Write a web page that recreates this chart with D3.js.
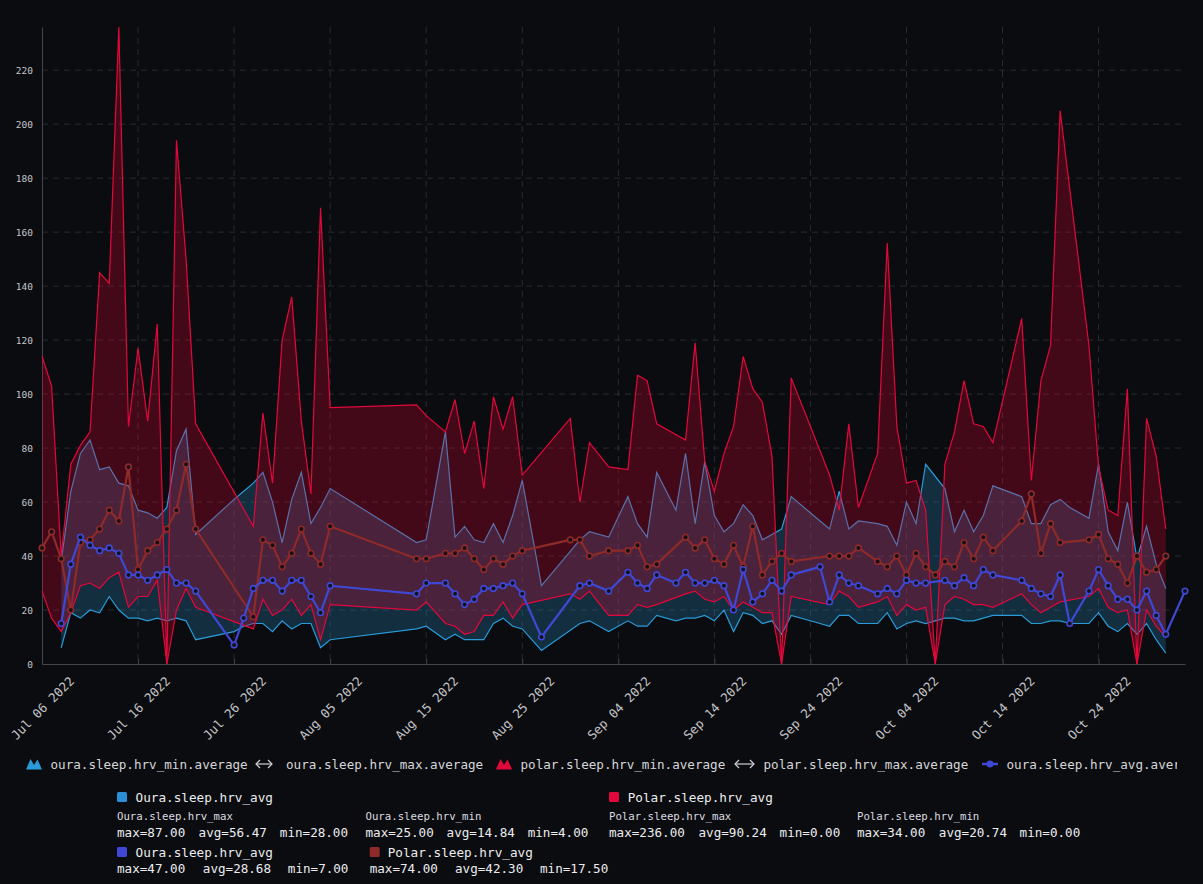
<!DOCTYPE html>
<html><head><meta charset="utf-8">
<script src="https://cdn.jsdelivr.net/npm/d3@7"></script>
<style>
html,body{margin:0;padding:0;background:#0b0c0f;}
svg{display:block;}
text{font-family:"DejaVu Sans Mono","Liberation Mono",monospace;}
</style></head><body>
<svg id="chart" width="1203" height="884"></svg>
<script>
// ---- data ----
const dates = [
"2022-07-06","2022-07-07","2022-07-08","2022-07-09","2022-07-10","2022-07-11","2022-07-12","2022-07-13","2022-07-14","2022-07-15",
"2022-07-16","2022-07-17","2022-07-18","2022-07-19","2022-07-20","2022-07-21","2022-07-22","2022-07-26","2022-07-27","2022-07-28",
"2022-07-29","2022-07-30","2022-07-31","2022-08-01","2022-08-02","2022-08-03","2022-08-04","2022-08-05","2022-08-14","2022-08-15",
"2022-08-17","2022-08-18","2022-08-19","2022-08-20","2022-08-21","2022-08-22","2022-08-23","2022-08-24","2022-08-25","2022-08-27",
"2022-08-30","2022-08-31","2022-09-01","2022-09-03","2022-09-05","2022-09-06","2022-09-07","2022-09-08","2022-09-10","2022-09-11",
"2022-09-12","2022-09-13","2022-09-14","2022-09-15","2022-09-16","2022-09-17","2022-09-18","2022-09-19","2022-09-20","2022-09-21",
"2022-09-22","2022-09-25","2022-09-26","2022-09-27","2022-09-28","2022-09-29","2022-10-01","2022-10-02","2022-10-03","2022-10-04",
"2022-10-05","2022-10-06","2022-10-07","2022-10-08","2022-10-09","2022-10-10","2022-10-11","2022-10-12","2022-10-13","2022-10-16",
"2022-10-17","2022-10-18","2022-10-19","2022-10-20","2022-10-21","2022-10-23","2022-10-24","2022-10-25","2022-10-26","2022-10-27",
"2022-10-28","2022-10-29","2022-10-30","2022-10-31","2022-11-02"];

const polarMax = [
114,103,40,74,81,86,145,141,236,88,
117,90,126,0,194,150,89,null,null,51,
93,67,120,136,90,63,169,95,96,92,
86,98,78,90,65,99,87,99,70,null,
91,60,82,73,72,107,105,89,null,83,
119,75,64,78,88,114,102,97,77,0,
106,null,70,57,89,58,78,156,88,67,
68,57,0,74,86,105,89,88,82,128,
68,105,118,205,null,118,73,57,55,102,
0,91,77,50,null];

const polarMin = [
27,17,12,19,29,30,28,32,34,21,
25,25,31,0,20,28,21,null,null,13,
24,18,20,24,18,22,9,22,20,23,
15,14,11,12,18,18,23,17,22,null,
26,24,27,18,18,22,21,22,null,26,
27,24,23,25,20,23,21,19,19,0,
25,null,22,27,25,21,23,25,18,22,
20,21,0,22,25,24,22,22,21,26,
22,19,21,23,null,25,28,21,19,20,
0,20,14,10,null];

const polarAvg = [
43,49,39,20,45,46,50,57,53,73,
35,42,45,50,57,74,50,null,null,17.5,
46,44,36,41,50,41,37,51,39,39,
41,41,43,39,35,39,37,40,42,null,
46,46,40,42,42,44,36,37,null,47,
43,46,39,37,44,36,51,33,38,41,
38,null,40,40,40,43,38,36,40,33,
41,36,33,38,36,45,39,47,42,53,
63,41,52,45,null,46,48,39,37,30,
40,34,35,40,null];

const ouraMax = [
null,null,38,64,78,83,72,73,67,66,
57,56,54,58,79,87,48,61,64,67,
71,60,45,61,71,52,58,65,45,46,
86,47,51,46,45,52,45,55,68,29,
null,46,49,47,62,52,47,71,57,78,
52,75,55,49,52,59,55,46,48,50,
62,53,50,64,50,53,52,51,44,60,
52,74,null,65,49,57,49,55,66,62,
52,52,59,61,58,54,74,49,42,60,
39,51,37,28,null];

const ouraMin = [
null,null,6,19,17,20,19,25,20,17,
17,16,17,16,17,16,9,12,14,15,
15,12,16,13,15,15,6,9,13,14,
9,11,9,9,9,15,17,14,13,5,
null,15,16,12,16,14,14,18,16,17,
17,18,16,20,12,19,18,15,16,11,
18,15,14,18,18,15,15,19,13,15,
16,15,null,17,17,16,16,17,18,18,
15,15,16,16,15,15,19,14,12,15,
11,15,9,4,null];

const ouraAvg = [
null,null,15,37,47,44,42,43,41,33,
33,31,33,35,30,30,27,7,17,28,
31,31,27,31,31,25,19,29,26,30,
30,26,22,24,28,28,29,30,26,10,
null,29,30,27,34,30,28,33,30,34,
30,30,31,29,20,35,23,26,31,27,
33,36,23,33,30,29,26,28,26,31,
30,30,null,31,29,32,29,35,33,31,
28,26,25,33,15,27,35,29,24,24,
20,27,18,11,27];

const xTicks = ["2022-07-06","2022-07-16","2022-07-26","2022-08-05","2022-08-15","2022-08-25",
                "2022-09-04","2022-09-14","2022-09-24","2022-10-04","2022-10-14","2022-10-24"];
const yTicks = [0,20,40,60,80,100,120,140,160,180,200,220];
const xDomain = ["2022-07-06","2022-11-02"];
const yMax = 236;

const legendTop = ["oura.sleep.hrv_min.average","oura.sleep.hrv_max.average",
                   "polar.sleep.hrv_min.average","polar.sleep.hrv_max.average","oura.sleep.hrv_avg.average"];

// ---- rendering ----
const parse = d3.utcParse("%Y-%m-%d");
const svg = d3.select("#chart");
const C = {
  bg:"#0b0c0f", grid:"#2a2b30", axis:"#45464c", label:"#c4c4c8",
  oura:"#2a9ad8", ouraFill:"rgba(42,154,216,0.24)",
  polar:"#e3083c", polarFill:"rgba(220,5,50,0.28)",
  ouraAvg:"#3f48d4", polarAvg:"#8e2a2a"
};
svg.append("rect").attr("width",1203).attr("height",884).attr("fill",C.bg);

const L=42, R=1185, T=27, B=664;
const x = d3.scaleUtc().domain(xDomain.map(parse)).range([L,R]);
const y = d3.scaleLinear().domain([0,yMax]).range([B,T]);

// grid
const g = svg.append("g");
g.selectAll("line.h").data(yTicks.filter(v=>v>0)).join("line")
  .attr("x1",L).attr("x2",R).attr("y1",d=>y(d)).attr("y2",d=>y(d))
  .attr("stroke",C.grid).attr("stroke-dasharray","6,5").attr("stroke-width",1);
g.selectAll("line.v").data(xTicks.slice(1)).join("line")
  .attr("x1",d=>x(parse(d))).attr("x2",d=>x(parse(d))).attr("y1",T).attr("y2",B)
  .attr("stroke",C.grid).attr("stroke-dasharray","6,5").attr("stroke-width",1);

// axes
const yAxis = svg.append("g").attr("transform",`translate(${L},0)`)
  .call(d3.axisLeft(y).tickValues(yTicks).tickSize(0).tickPadding(9));
yAxis.select(".domain").attr("stroke",C.axis);
yAxis.selectAll("text").attr("fill",C.label).attr("font-size",9.5)
  .attr("font-family","DejaVu Sans Mono, monospace");

const xAxis = svg.append("g").attr("transform",`translate(0,${B})`)
  .call(d3.axisBottom(x).tickValues(xTicks.map(parse)).tickSize(-5).tickSizeOuter(0)
        .tickFormat(d3.utcFormat("%b %d %Y")));
xAxis.select(".domain").attr("stroke",C.axis);
xAxis.selectAll(".tick line").attr("stroke",C.axis);
xAxis.selectAll("text").attr("fill",C.label).attr("font-size",12.5)
  .attr("font-family","DejaVu Sans Mono, monospace")
  .attr("text-anchor","middle").attr("dy",null).attr("y",null)
  .attr("dominant-baseline","central")
  .attr("transform","translate(0,44) rotate(-45)");

// series helpers
function pts(vals){ return dates.map((d,i)=>({date:parse(d),v:vals[i]})).filter(p=>p.v!=null); }
function band(minV,maxV){ return dates.map((d,i)=>({date:parse(d),lo:minV[i],hi:maxV[i]})).filter(p=>p.lo!=null&&p.hi!=null); }
const line = d3.line().x(d=>x(d.date)).y(d=>y(d.v));
const area = d3.area().x(d=>x(d.date)).y0(d=>y(d.lo)).y1(d=>y(d.hi));

// oura band
const oB = band(ouraMin,ouraMax);
svg.append("path").datum(oB).attr("d",area).attr("fill",C.ouraFill);
svg.append("path").datum(pts(ouraMin)).attr("d",line).attr("fill","none").attr("stroke",C.oura).attr("stroke-width",1.2);
svg.append("path").datum(pts(ouraMax)).attr("d",line).attr("fill","none").attr("stroke",C.oura).attr("stroke-width",1.2);

// polar band
const pB = band(polarMin,polarMax);
svg.append("path").datum(pB).attr("d",area).attr("fill",C.polarFill);
svg.append("path").datum(pts(polarMin)).attr("d",line).attr("fill","none").attr("stroke",C.polar).attr("stroke-width",1.2);
svg.append("path").datum(pts(polarMax)).attr("d",line).attr("fill","none").attr("stroke",C.polar).attr("stroke-width",1.2);

// avg lines
function avgLine(vals,color){
  const p = pts(vals);
  svg.append("path").datum(p).attr("d",line).attr("fill","none").attr("stroke",color)
    .attr("stroke-width",2.2).attr("stroke-linejoin","round");
  svg.append("g").selectAll("circle").data(p).join("circle")
    .attr("cx",d=>x(d.date)).attr("cy",d=>y(d.v)).attr("r",2.8)
    .attr("fill","#141218").attr("stroke",color).attr("stroke-width",1.6);
}
avgLine(polarAvg,C.polarAvg);
avgLine(ouraAvg,C.ouraAvg);

// ---- legend top row ----
const lg = svg.append("g");
svg.append("clipPath").attr("id","lgclip").append("rect").attr("x",0).attr("y",740).attr("width",1177).attr("height",40);
lg.attr("clip-path","url(#lgclip)");
const ly = 764;
function mountain(x0,color){
  lg.append("path").attr("d",`M${x0},${ly+5.5} L${x0+4.5},${ly-5} L${x0+8},${ly+1} L${x0+11.5},${ly-4.5} L${x0+16},${ly+5.5} Z`).attr("fill",color);
}
function arrow(x0,x1){
  const s = lg.append("g").attr("stroke","#d0d0d4").attr("stroke-width",1.2).attr("fill","none");
  s.append("line").attr("x1",x0).attr("x2",x1).attr("y1",ly).attr("y2",ly);
  s.append("path").attr("d",`M${x0+4},${ly-4} L${x0},${ly} L${x0+4},${ly+4}`);
  s.append("path").attr("d",`M${x1-4},${ly-4} L${x1},${ly} L${x1+0},${ly} L${x1-4},${ly+4}`);
}
function ltext(x0,t){
  lg.append("text").attr("x",x0).attr("y",ly).attr("dominant-baseline","central")
    .attr("fill","#d6d6da").attr("font-size",12.6).text(t);
}
mountain(26,C.oura); ltext(50.5,legendTop[0]);
arrow(256,272); ltext(286,legendTop[1]);
mountain(496,C.polar); ltext(520.5,legendTop[2]);
arrow(735,754); ltext(763.5,legendTop[3]);
lg.append("line").attr("x1",982).attr("x2",998).attr("y1",ly).attr("y2",ly).attr("stroke",C.ouraAvg).attr("stroke-width",2.5);
lg.append("circle").attr("cx",990).attr("cy",ly).attr("r",3.5).attr("fill",C.ouraAvg);
ltext(1006.5,legendTop[4]);

// ---- stats legend ----
const st = svg.append("g");
function sq(x0,y0,color){ st.append("rect").attr("x",x0).attr("y",y0-5).attr("width",10).attr("height",10).attr("rx",1.5).attr("fill",color); }
function head(x0,y0,t){ st.append("text").attr("x",x0).attr("y",y0).attr("dominant-baseline","central").attr("fill","#ececf0").attr("font-size",12.7).text(t); }
function small(x0,y0,t){ st.append("text").attr("x",x0).attr("y",y0).attr("dominant-baseline","central").attr("fill","#dcdce0").attr("font-size",10.7).text(t); }
function vals(xs,y0,arr){ arr.forEach((t,i)=>st.append("text").attr("x",xs[i]).attr("y",y0).attr("dominant-baseline","central").attr("fill","#ececf0").attr("font-size",12.6).text(t)); }

sq(117,797,"#2a8fd6"); head(135.5,797,"Oura.sleep.hrv_avg");
small(117,816,"Oura.sleep.hrv_max");
vals([117,198.6,279.8],832,["max=87.00","avg=56.47","min=28.00"]);
small(365.5,816,"Oura.sleep.hrv_min");
vals([365.5,446.6,527.7],832,["max=25.00","avg=14.84","min=4.00"]);

sq(609,797,"#e3083c"); head(627.7,797,"Polar.sleep.hrv_avg");
small(609,816,"Polar.sleep.hrv_max");
vals([609,698.5,779.6],832,["max=236.00","avg=90.24","min=0.00"]);
small(857,816,"Polar.sleep.hrv_min");
vals([857,938.8,1019.6],832,["max=34.00","avg=20.74","min=0.00"]);

sq(117,852,C.ouraAvg); head(135.5,852,"Oura.sleep.hrv_avg");
vals([117,202.8,287.8],868,["max=47.00","avg=28.68","min=7.00"]);
sq(369.7,852,C.polarAvg); head(387.7,852,"Polar.sleep.hrv_avg");
vals([369.7,455,540],868,["max=74.00","avg=42.30","min=17.50"]);
</script>
</body></html>
